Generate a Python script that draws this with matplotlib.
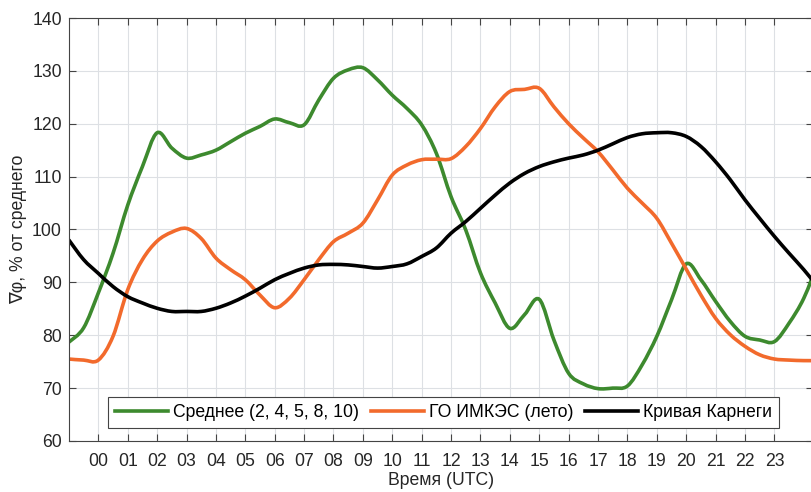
import numpy as np
import matplotlib
matplotlib.use("Agg")
import matplotlib.pyplot as plt
from matplotlib.path import Path
from matplotlib.patches import PathPatch
from matplotlib.lines import Line2D

plt.rcParams['font.family'] = ['Liberation Sans', 'DejaVu Sans']

# half-hour sampling, hour -1 .. 24.5
hours = np.arange(-1, 24.51, 0.5)

mean_curve = [78.7, 81.4, 88.0, 95.5, 104.6, 111.9, 118.3, 115.4, 113.5, 114.1,
              115.0, 116.6, 118.2, 119.5, 120.9, 120.2, 119.8, 124.5, 128.6, 130.2,
              130.6, 128.3, 125.4, 122.9, 119.8, 114.4, 106.2, 99.9, 91.8, 86.1,
              81.3, 83.9, 86.8, 79.1, 72.8, 70.8, 69.9, 70.0, 70.4, 74.4,
              79.8, 86.7, 93.5, 90.5, 86.4, 82.6, 79.8, 79.1, 78.8, 82.3,
              87.0, 94.0]

imkes_summer = [75.5, 75.3, 75.3, 79.8, 88.6, 94.3, 97.8, 99.5, 100.2, 98.3,
                94.6, 92.4, 90.5, 87.6, 85.2, 87.0, 90.5, 94.3, 97.7, 99.3,
                101.2, 105.6, 110.3, 112.2, 113.2, 113.3, 113.4, 115.7, 119.1, 123.2,
                126.1, 126.5, 126.7, 123.2, 120.0, 117.3, 114.7, 111.3, 107.8, 105.0,
                102.1, 97.4, 92.5, 87.6, 83.2, 80.1, 77.9, 76.3, 75.5, 75.3,
                75.2, 75.2]

carnegie = [98.0, 94.3, 91.7, 89.2, 87.3, 86.1, 85.1, 84.5, 84.5, 84.5,
            85.1, 86.1, 87.4, 88.9, 90.5, 91.7, 92.7, 93.3, 93.4, 93.3,
            93.0, 92.7, 93.0, 93.5, 94.9, 96.5, 99.3, 101.5, 104.0, 106.5,
            108.8, 110.6, 111.9, 112.8, 113.5, 114.1, 115.0, 116.2, 117.4, 118.1,
            118.3, 118.3, 117.6, 115.7, 112.8, 109.4, 105.6, 102.1, 98.7, 95.5,
            92.4, 89.0]

tick_hours = list(range(24))
tick_labels = [f"{h:02d}" for h in tick_hours]
labels = ["Среднее (2, 4, 5, 8, 10)", "ГО ИМКЭС (лето)", "Кривая Карнеги"]
colors = ['#3d8a2e', '#f26a2c', 'black']


def smooth_path(x, y):
    # cubic Bezier segments through every point (Catmull-Rom tangents)
    p = np.column_stack([x, y]).astype(float)
    ext = np.vstack([p[0], p, p[-1]])
    verts = [p[0]]
    codes = [Path.MOVETO]
    for i in range(len(p) - 1):
        p0, p1, p2, p3 = ext[i], ext[i + 1], ext[i + 2], ext[i + 3]
        verts += [p1 + (p2 - p0) / 6, p2 - (p3 - p1) / 6, p2]
        codes += [Path.CURVE4] * 3
    return Path(verts, codes)


fig = plt.figure(figsize=(8.11, 4.92), dpi=100)
ax = fig.add_axes([0.085, 0.1037, 0.917, 0.8597])

handles = []
for series, c, lab in zip([mean_curve, imkes_summer, carnegie], colors, labels):
    ax.add_patch(PathPatch(smooth_path(hours, series), fill=False, edgecolor=c,
                           lw=2.6, capstyle='round', joinstyle='round'))
    handles.append(Line2D([], [], color=c, lw=2.6, label=lab))

ax.set_xlim(-1, 24.3)
ax.set_ylim(60, 140)
ax.set_xticks(tick_hours)
ax.set_xticklabels(tick_labels)
ax.set_yticks(range(60, 141, 10))
ax.tick_params(direction='in', length=5, top=True, right=True,
               labelsize=12.7, color='#444444', labelcolor='#262626')
ax.tick_params(axis='x', pad=9)
ax.tick_params(axis='y', pad=5)
ax.grid(True, color='#dde0e4', lw=0.8)
ax.set_axisbelow(True)
for s in ax.spines.values():
    s.set_color('#444444')
    s.set_linewidth(0.8)

ax.set_xlabel("Время (UTC)", fontsize=12.7, color='#262626', labelpad=1)
ax.set_ylabel("∇φ, % от среднего", fontsize=12.7, color='#262626', labelpad=4)

leg = ax.legend(handles=handles, loc='lower center',
                bbox_to_anchor=(0.504, 0.03), ncol=3, fontsize=12.7,
                frameon=True, fancybox=False, handlelength=3.0,
                columnspacing=0.68, handletextpad=0.27, borderpad=0.4,
                borderaxespad=0, framealpha=1)
leg.get_frame().set_edgecolor('#444444')
leg.get_frame().set_linewidth(0.8)

fig.savefig("out.png", dpi=100)
